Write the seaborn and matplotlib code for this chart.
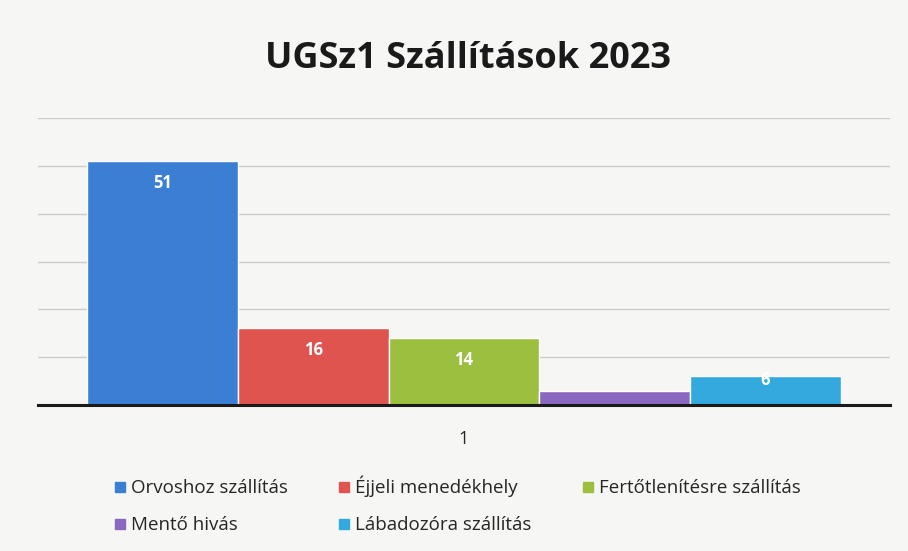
import matplotlib
matplotlib.use("Agg")
import matplotlib.pyplot as plt
import seaborn as sns
import pandas as pd

# adatok a képről
categories = ["Orvoshoz szállítás", "Éjjeli menedékhely", "Fertőtlenítésre szállítás",
              "Mentő hivás", "Lábadozóra szállítás"]
values = [51, 16, 14, 3, 6]
labels = ["51", "16", "14", "", "6"]
colors = ["#3b7fd4", "#e0544f", "#9dbf3f", "#8a68c0", "#33a9dd"]
group = ["1"] * len(categories)

df = pd.DataFrame({"group": group, "kategoria": categories, "ertek": values})

sns.set_theme(style="whitegrid")
plt.rcParams['font.family'] = ['Open Sans', 'DejaVu Sans']

bg = "#f6f6f4"
fig = plt.figure(figsize=(9.08, 5.51), dpi=100, facecolor=bg)
ax = fig.add_axes([38 / 908, 1 - 405 / 551, 852 / 908, (405 - 118) / 551])
ax.set_facecolor(bg)

sns.barplot(data=df, x="group", y="ertek", hue="kategoria", palette=colors,
            width=0.885, gap=0, saturation=1, legend=False, ax=ax,
            edgecolor="white", linewidth=1)

ax.set_ylim(0, 60)
ax.set_xlim(-0.5, 0.5)
ax.set_yticks(range(0, 61, 10))
ax.set_yticklabels([])
ax.tick_params(axis="y", length=0)
ax.grid(axis="y", color="#cccccc", linewidth=1)
ax.grid(axis="x", visible=False)
for s in ["top", "right", "left"]:
    ax.spines[s].set_visible(False)
ax.spines["bottom"].set_color("#1a1a1a")
ax.spines["bottom"].set_linewidth(2.2)
ax.set_xlabel("")
ax.set_ylabel("")
ax.tick_params(axis="x", labelsize=13, pad=18, length=0)

# értékek az oszlopokon belül
for cont, lab, v in zip(ax.containers, labels, values):
    pad = -22 if v > 10 else -9
    ax.bar_label(cont, labels=[lab], padding=pad, color="white",
                 fontsize=12, fontweight="bold")

fig.suptitle("UGSz1 Szállítások 2023", x=0.515, y=0.925, fontsize=26,
             fontweight="bold", color="#1a1a1a")

# jelmagyarázat
handles = [plt.Line2D([], [], marker="s", linestyle="", markersize=7, color=c)
           for c in colors]
order = [0, 3, 1, 4, 2]
fig.legend([handles[i] for i in order], [categories[i] for i in order],
           loc="lower left", bbox_to_anchor=(0.105, 0.0), ncol=3,
           frameon=False, fontsize=13.5, handletextpad=0.2,
           columnspacing=2.6, labelspacing=1.0, handlelength=0.8)

plt.savefig("out.png", dpi=100, facecolor=bg)
